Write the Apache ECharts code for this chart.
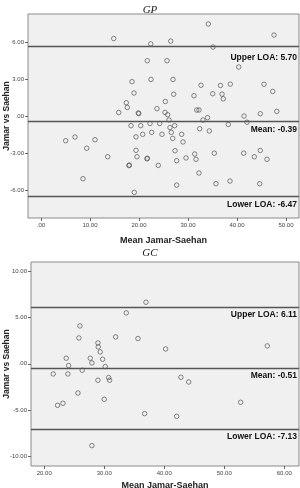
<!DOCTYPE html>
<html>
<head>
<meta charset="utf-8">
<script src="https://cdn.jsdelivr.net/npm/echarts@6/dist/echarts.min.js"></script>
<style>
  html, body { margin: 0; padding: 0; background: #fff; }
  #chart { width: 300px; height: 488px; }
</style>
</head>
<body>
<div id="chart"></div>
<script>
// GP: 平均值 (x) 和差值 (y)
const gpMean = [14.84, 22.39, 26.47, 34.14, 47.55, 35.10, 21.69, 25.71, 40.35, 18.57,
  22.45, 26.94, 18.98, 27.08, 17.41, 17.61, 25.37, 31.22, 15.86, 19.86,
  19.95, 23.67, 25.31, 25.86, 26.12, 31.78, 32.24, 32.65, 36.63, 38.63,
  45.51, 47.29, 35.04, 36.94, 37.20, 41.43, 44.75, 48.11, 33.98, 33.06,
  18.37, 20.35, 22.24, 24.22, 26.33, 27.28, 32.39, 34.35, 38.22, 42.04,
  19.39, 20.76, 22.59, 24.69, 26.59, 26.88, 28.71, 28.98, 19.39, 19.59,
  21.63, 21.70, 17.96, 18.02, 23.94, 27.35, 27.69, 29.59, 31.37, 31.63,
  35.37, 32.24, 27.69, 35.71, 19.04, 41.37, 43.53, 44.75, 46.12, 38.57,
  44.63, 5.04, 6.94, 9.33, 11.02, 13.61, 8.57]
const gpDiff = [6.31, 5.88, 6.10, 7.49, 6.59, 5.62, 4.51, 4.51, 4.00, 2.81,
  2.99, 2.99, 1.89, 1.79, 1.10, 0.72, 1.20, 1.67, 0.31, 0.27,
  0.22, 0.62, 0.32, 0.13, -0.30, 0.51, 0.51, 2.52, 2.50, 2.61,
  2.60, 2.02, 1.83, 1.80, 1.42, 0.02, 0.21, 0.40, -0.11, -0.30,
  -0.76, -0.76, -0.58, -0.58, -0.91, -0.76, -1.01, -1.19, -0.66, -0.48,
  -1.67, -1.46, -1.30, -1.46, -1.30, -1.79, -1.46, -2.08, -2.76, -3.28,
  -3.45, -3.40, -4.00, -3.95, -3.98, -2.79, -3.60, -3.38, -3.06, -3.49,
  -2.99, -4.60, -5.58, -5.47, -6.17, -2.99, -3.28, -2.77, -3.49, -5.25,
  -5.47, -1.98, -1.68, -2.59, -1.90, -3.28, -5.06]

// GC
const gcMean = [36.95, 33.67, 25.95, 25.78, 31.90, 35.62, 28.95, 29.00, 29.33, 40.23,
  57.17, 23.67, 27.67, 27.95, 29.73, 24.07, 30.17, 26.33, 21.50, 23.95,
  28.95, 30.73, 30.90, 42.78, 44.07, 25.62, 22.23, 23.12, 30.00, 52.73,
  36.73, 42.07, 27.95]
const gcDiff = [6.65, 5.50, 4.09, 2.79, 2.90, 2.73, 2.25, 1.82, 1.28, 1.60,
  1.93, 0.60, 0.60, 0.09, 0.49, -0.19, -0.30, -0.70, -1.10, -1.10,
  -1.78, -1.49, -1.78, -1.46, -1.97, -3.16, -4.49, -4.27, -3.84, -4.16,
  -5.39, -5.68, -8.85]

// 上限, 均值, 下限
const gpLines = [5.70, -0.39, -6.47]
const gcLines = [6.11, -0.51, -7.13]
const lineNames = ['Upper LOA', 'Mean', 'Lower LOA']

// 刻度
const gpXTicks = [0, 10, 20, 30, 40, 50]
const gpYTicks = [-6, -3, 0, 3, 6]
const gcXTicks = [20, 30, 40, 50, 60]
const gcYTicks = [-10, -5, 0, 5, 10]

const fmt = v => (v === 0 ? '.00' : v.toFixed(2))
const zip = (a, b) => a.map((v, i) => [v, b[i]])

function xAxisOf(idx, min, max, ticks, gap) {
  return {
    type: 'value', gridIndex: idx, min: min, max: max,
    name: 'Mean Jamar-Saehan', nameLocation: 'middle', nameGap: gap, nameMoveOverlap: false,
    nameTextStyle: { fontFamily: 'Liberation Sans', fontWeight: 'bold', fontSize: 9, color: '#222' },
    axisLine: { show: false, onZero: false },
    axisTick: { show: true, length: 3, lineStyle: { color: '#666' }, customValues: ticks },
    axisLabel: { fontSize: 6, color: '#444', margin: 4, customValues: ticks, formatter: fmt },
    splitLine: { show: false }
  }
}
function yAxisOf(idx, min, max, ticks, gap) {
  return {
    type: 'value', gridIndex: idx, min: min, max: max,
    name: 'Jamar vs Saehan', nameLocation: 'middle', nameGap: gap, nameMoveOverlap: false,
    nameTextStyle: { fontFamily: 'Liberation Sans', fontWeight: 'bold', fontSize: 8.5, color: '#222' },
    axisLine: { show: false, onZero: false },
    axisTick: { show: true, length: 3, lineStyle: { color: '#666' }, customValues: ticks },
    axisLabel: { fontSize: 6, color: '#444', margin: 4, customValues: ticks, formatter: fmt },
    splitLine: { show: false }
  }
}
function lineData(vals, offsets) {
  return vals.map((v, i) => ({
    yAxis: v,
    label: {
      formatter: lineNames[i] + ': ' + v.toFixed(2),
      offset: [0, offsets[i]]
    }
  }))
}
function seriesOf(idx, data, vals, offsets) {
  return {
    type: 'scatter', xAxisIndex: idx, yAxisIndex: idx,
    data: data, symbol: 'circle', symbolSize: 4.5,
    itemStyle: { color: 'rgba(0,0,0,0)', borderColor: '#444', borderWidth: 0.8 },
    emphasis: { disabled: true },
    markLine: {
      silent: true, symbol: 'none', animation: false,
      lineStyle: { color: '#555', width: 1.3, type: 'solid' },
      label: {
        position: 'insideEndBottom', distance: 2,
        fontFamily: 'Liberation Sans', fontWeight: 'bold', fontSize: 8.5, color: '#111'
      },
      data: lineData(vals, offsets)
    }
  }
}

const chart = echarts.init(document.getElementById('chart'), null, { renderer: 'canvas' })
chart.setOption({
  animation: false,
  backgroundColor: '#fff',
  title: [
    { text: 'GP', left: 'center', top: 0,
      textStyle: { fontFamily: 'Liberation Serif', fontStyle: 'italic', fontWeight: 'normal', fontSize: 11, color: '#222' } },
    { text: 'GC', left: 'center', top: 243,
      textStyle: { fontFamily: 'Liberation Serif', fontStyle: 'italic', fontWeight: 'normal', fontSize: 11, color: '#222' } }
  ],
  grid: [
    { left: 28, top: 14, width: 271, height: 204, show: true, backgroundColor: '#f0f0f0',
      borderColor: '#8a8a8a', borderWidth: 1, containLabel: false, outerBoundsMode: 'none' },
    { left: 31, top: 262, width: 268, height: 204, show: true, backgroundColor: '#f0f0f0',
      borderColor: '#8a8a8a', borderWidth: 1, containLabel: false, outerBoundsMode: 'none' }
  ],
  xAxis: [
    xAxisOf(0, -2.65, 52.65, gpXTicks, 18),
    xAxisOf(1, 17.8, 62.45, gcXTicks, 15)
  ],
  yAxis: [
    yAxisOf(0, -8.25, 8.3, gpYTicks, 17),
    yAxisOf(1, -11.05, 11.0, gcYTicks, 20)
  ],
  series: [
    seriesOf(0, zip(gpMean, gpDiff), gpLines, [5, 2, 2]),
    seriesOf(1, zip(gcMean, gcDiff), gcLines, [1, 1, 0])
  ]
})
</script>
</body>
</html>
